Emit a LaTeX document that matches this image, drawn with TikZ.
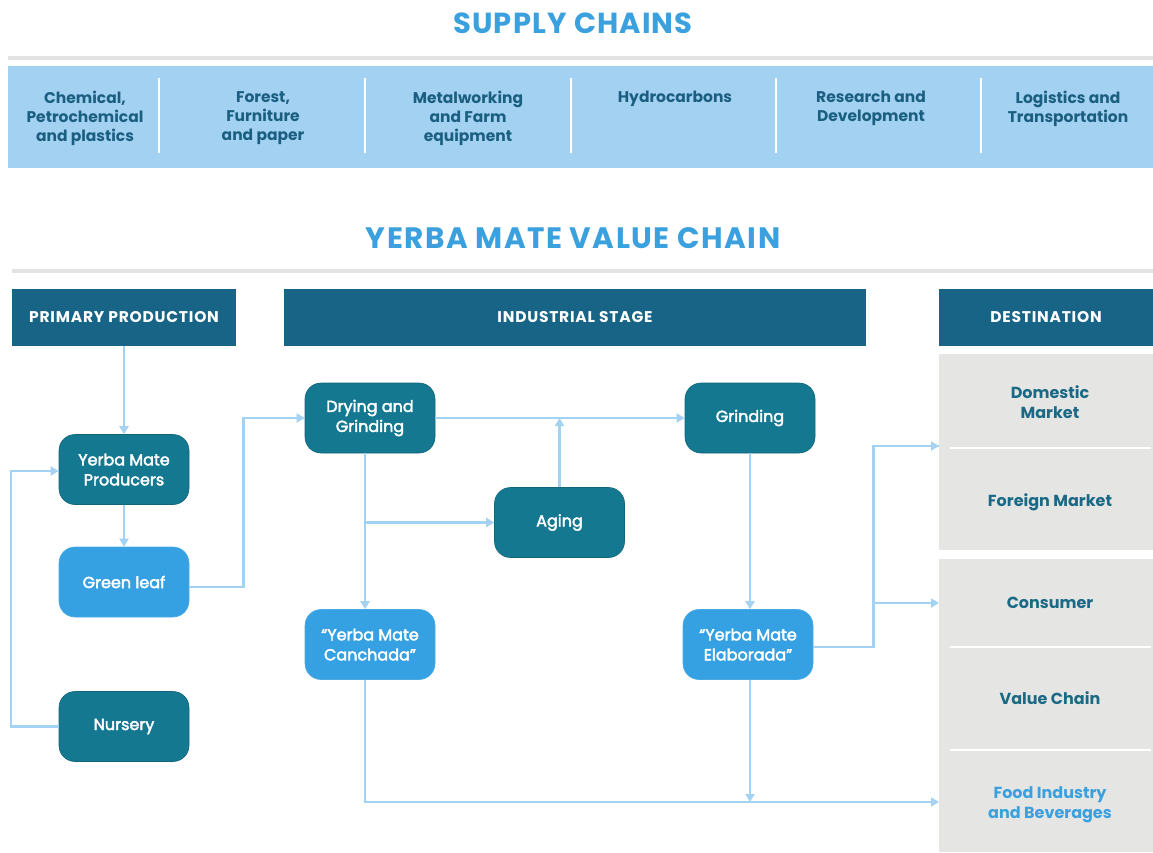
\documentclass[tikz,border=0pt]{standalone}
\usepackage{fontspec}
\setmainfont{Poppins}
\usetikzlibrary{arrows.meta}

\definecolor{titleblue}{HTML}{3AA0DE}
\definecolor{barblue}{HTML}{A3D1F2}
\definecolor{bartext}{HTML}{1B5F80}
\definecolor{hdrblue}{HTML}{176487}
\definecolor{tealbox}{HTML}{157891}
\definecolor{lightbox}{HTML}{36A1E2}
\definecolor{arrowblue}{HTML}{A4D2F3}
\definecolor{greyfill}{HTML}{E5E5E4}
\definecolor{rulegrey}{HTML}{E3E3E3}
\definecolor{desttext}{HTML}{1A6A85}

\tikzset{
  bigtitle/.style={font=\fontsize{29}{31}\selectfont\bfseries\addfontfeature{LetterSpace=4}, text=titleblue, inner sep=0},
  coltext/.style={font=\fontsize{15.5}{19}\selectfont\bfseries, text=bartext, align=center, anchor=north, inner sep=0},
  hdrbox/.style={fill=hdrblue, text=white, minimum height=57pt, inner sep=0,
    font=\fontsize{15.5}{17}\selectfont\bfseries\addfontfeature{LetterSpace=5}},
  procbox/.style={rounded corners=16pt, minimum width=130pt, minimum height=70pt, inner sep=0,
    text=white, align=center, font=\fontsize{16}{20}\selectfont\addfontfeature{FakeBold=2.5}},
  darkbox/.style={procbox, fill=tealbox, draw=tealbox!85!black, line width=0.6pt},
  litebox/.style={procbox, fill=lightbox, draw=lightbox!90!white, line width=0.6pt},
  desttxt/.style={text=desttext, align=center, inner sep=0, font=\fontsize{16}{19.5}\selectfont\bfseries},
  flow/.style={draw=arrowblue, line width=2.5pt},
  flowarrow/.style={flow, -{Triangle[length=8pt,width=9pt]}},
}

\begin{document}
\begin{tikzpicture}[x=1pt,y=-1pt]
\useasboundingbox (0,0) rectangle (1153,852);
\fill[white] (0,0) rectangle (1153,852);

% ---- supply chains band ----
\node[bigtitle] (supplytitle) at (573,23) {SUPPLY CHAINS};
\draw[rulegrey, line width=4pt] (8,58) -- (1153,58);
\fill[barblue] (8,66) rectangle (1153,168);
\foreach \sx in {159,365,571,776,981}
  \draw[white, line width=1.8pt] (\sx,78) -- (\sx,153);

\node[coltext] (sc1) at (85,91)   {Chemical,\\Petrochemical\\and plastics};
\node[coltext] (sc2) at (263,91)  {Forest,\\Furniture\\and paper};
\node[coltext] (sc3) at (468,91)  {Metalworking\\and Farm\\equipment};
\node[coltext] (sc4) at (675,91)  {Hydrocarbons};
\node[coltext] (sc5) at (871,91)  {Research and\\Development};
\node[coltext] (sc6) at (1068,91) {Logistics and\\Transportation};

% ---- value chain ----
\node[bigtitle, font=\fontsize{29.5}{31}\selectfont\bfseries\addfontfeature{LetterSpace=5}] (vctitle) at (573,238) {YERBA MATE VALUE CHAIN};
\draw[rulegrey, line width=4pt] (12,271) -- (1153,271);

\node[hdrbox, minimum width=224pt] (hprim) at (124,317.5) {PRIMARY PRODUCTION};
\node[hdrbox, minimum width=582pt] (hind)  at (575,317.5) {INDUSTRIAL STAGE};
\node[hdrbox, minimum width=214pt] (hdest) at (1046,317.5) {DESTINATION};

% destination panels
\fill[greyfill] (939,354) rectangle (1153,550);
\fill[greyfill] (939,559) rectangle (1153,852);
\foreach \sy in {448,647,750}
  \draw[white, line width=2pt] (950,\sy) -- (1151,\sy);

\node[desttxt] (dom)  at (1050,402) {Domestic\\Market};
\node[desttxt] (for)  at (1050,502) {Foreign Market};
\node[desttxt] (cons) at (1050,603) {Consumer};
\node[desttxt] (vch)  at (1050,698) {Value Chain};
\node[desttxt, text=titleblue] (food) at (1050,805) {Food Industry\\and Beverages};

\coordinate (inDom)  at (939,446);
\coordinate (inCons) at (939,603);
\coordinate (inFood) at (939,802);

% process boxes
\node[darkbox] (prod)  at (124,469.5) {Yerba Mate\\Producers};
\node[litebox] (leaf)  at (124,582)   {Green leaf};
\node[darkbox] (nurs)  at (124,726.5) {Nursery};
\node[darkbox] (dry)   at (370,418)   {Drying and\\Grinding};
\node[darkbox] (aging) at (559.5,522.5) {Aging};
\node[darkbox] (grind) at (750,418)   {Grinding};
\node[litebox] (canch) at (370,644.5) {``Yerba Mate\\Canchada''};
\node[litebox] (elab)  at (748,644.5) {``Yerba Mate\\Elaborada''};

% ---- connectors ----
\draw[flowarrow] (hprim.south) -- (prod.north);
\draw[flowarrow] (prod.south) -- (leaf.north);
\draw[flowarrow] ([yshift=-5pt]leaf.east) -- ++(54,0) |- (dry.west);
\draw[flowarrow] (nurs.west) -- ++(-47.5,0) |- ([yshift=-1.5pt]prod.west);

\draw[flowarrow] (dry.east) -- (grind.west);
\draw[flowarrow] (aging.north) -- (aging.north |- dry.east);
\draw[flowarrow] ([xshift=-5pt]dry.south) -- ([xshift=-5pt]canch.north);
\draw[flowarrow] ([xshift=-5pt]dry.south |- aging.west) -- (aging.west);

\draw[flowarrow] (grind.south) -- (grind.south |- elab.north);
\draw[flow] ([yshift=-2.5pt]elab.east) -- ++(60,0) coordinate (elabturn) |- (inDom);
\draw[flowarrow] (elabturn) |- (inDom);
\draw[flowarrow] (elabturn |- inCons) -- (inCons);

\draw[flowarrow] ([xshift=-5pt]canch.south) |- (inFood);
\draw[flowarrow] (grind.south |- elab.south) -- (grind.south |- inFood);
\end{tikzpicture}
\end{document}
